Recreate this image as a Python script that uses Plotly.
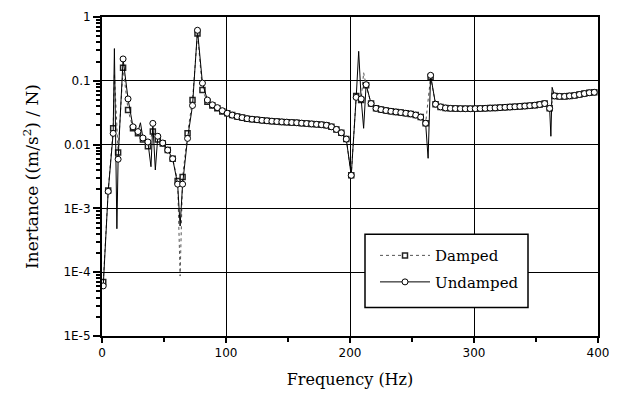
import plotly.graph_objects as go

# ---- data ----
freq = [1, 5, 9, 13, 17, 21, 25, 29, 33, 37, 41, 45, 49, 53, 57, 61, 65, 69, 73, 77,
        81, 85, 89, 93, 97, 101, 105, 109, 113, 117, 121, 125, 129, 133, 137, 141, 145, 149, 153, 157,
        161, 165, 169, 173, 177, 181, 185, 189, 193, 197, 201, 205, 209, 213, 217, 221, 225, 229, 233, 237,
        241, 245, 249, 253, 257, 261, 265, 269, 273, 277, 281, 285, 289, 293, 297, 301, 305, 309, 313, 317,
        321, 325, 329, 333, 337, 341, 345, 349, 353, 357, 361, 365, 369, 373, 377, 381, 385, 389, 393, 397]

undamped = [6.1e-5, 1.85e-3, 0.015, 0.0059, 0.22, 0.052, 0.019, 0.016, 0.0127, 0.011,
            0.0215, 0.0135, 0.0106, 0.0082, 0.006, 0.0024, 0.0024, 0.0125, 0.041, 0.62,
            0.092, 0.05, 0.042, 0.038, 0.034, 0.031, 0.029, 0.0275, 0.0265, 0.0255,
            0.025, 0.0245, 0.024, 0.0236, 0.0233, 0.023, 0.0227, 0.0225, 0.0222, 0.022,
            0.0217, 0.0214, 0.0211, 0.0208, 0.0205, 0.0201, 0.019, 0.0173, 0.0153, 0.0122,
            0.0033, 0.055, 0.052, 0.087, 0.044, 0.037, 0.0354, 0.0342, 0.0333, 0.0325,
            0.0318, 0.031, 0.0303, 0.029, 0.027, 0.0216, 0.122, 0.043, 0.039, 0.0375,
            0.037, 0.0368, 0.0366, 0.0365, 0.0365, 0.0366, 0.0368, 0.037, 0.0373, 0.0376,
            0.038, 0.0384, 0.0388, 0.0392, 0.0397, 0.0402, 0.0408, 0.0415, 0.0425, 0.044,
            0.037, 0.058, 0.057, 0.057, 0.058, 0.059, 0.061, 0.063, 0.065, 0.066]

damped = [7.0e-5, 1.9e-3, 0.018, 0.0075, 0.16, 0.035, 0.018, 0.015, 0.012, 0.0094,
          0.016, 0.012, 0.0104, 0.0082, 0.006, 0.0027, 0.0031, 0.015, 0.05, 0.55,
          0.072, 0.047, 0.041, 0.037, 0.033, 0.031, 0.029, 0.0275, 0.0265, 0.0255,
          0.025, 0.0245, 0.024, 0.0236, 0.0233, 0.023, 0.0227, 0.0225, 0.0222, 0.022,
          0.0217, 0.0214, 0.0211, 0.0208, 0.0205, 0.0201, 0.019, 0.0173, 0.0153, 0.0122,
          0.0033, 0.058, 0.05, 0.085, 0.044, 0.037, 0.0354, 0.0342, 0.0333, 0.0325,
          0.0318, 0.031, 0.0303, 0.029, 0.027, 0.0216, 0.115, 0.043, 0.039, 0.0375,
          0.037, 0.0368, 0.0366, 0.0365, 0.0365, 0.0366, 0.0368, 0.037, 0.0373, 0.0376,
          0.038, 0.0384, 0.0388, 0.0392, 0.0397, 0.0402, 0.0408, 0.0415, 0.0425, 0.044,
          0.037, 0.058, 0.057, 0.057, 0.058, 0.059, 0.061, 0.063, 0.065, 0.066]

# sharp resonance / anti-resonance excursions drawn by the lines between markers
undamped_spike_freq = [10, 12, 31, 39.5, 43, 63, 207, 211, 263, 362, 363]
undamped_spike_val = [0.32, 4.8e-4, 0.022, 0.0045, 0.004, 5.3e-4, 0.29, 0.018, 0.0061, 0.0135, 0.079]
damped_spike_freq = [10, 63, 211]
damped_spike_val = [0.13, 8.7e-5, 0.134]

y_tick_vals = [1e-5, 1e-4, 1e-3, 0.01, 0.1, 1]
y_tick_text = ["1E-5", "1E-4", "1E-3", "0.01", "0.1", "1"]
x_tick_vals = [0, 100, 200, 300, 400]


def merged(f, v, sf, sv):
    pts = sorted(list(zip(f, v)) + list(zip(sf, sv)))
    return [p[0] for p in pts], [p[1] for p in pts]


dx, dy = merged(freq, damped, damped_spike_freq, damped_spike_val)
ux, uy = merged(freq, undamped, undamped_spike_freq, undamped_spike_val)

SERIF = "DejaVu Serif"
SANS = "DejaVu Sans"

fig = go.Figure()

# Damped: dotted grey line, small squares
fig.add_trace(go.Scatter(x=dx, y=dy, mode="lines", showlegend=False, hoverinfo="skip",
                         line=dict(color="#555555", width=1, dash="dot")))
fig.add_trace(go.Scatter(x=freq, y=damped, mode="markers", showlegend=False, name="Damped",
                         marker=dict(symbol="square", size=5, color="white",
                                     line=dict(color="#222222", width=1.5))))
# Undamped: solid black line, open circles
fig.add_trace(go.Scatter(x=ux, y=uy, mode="lines", showlegend=False, hoverinfo="skip",
                         line=dict(color="black", width=1)))
fig.add_trace(go.Scatter(x=freq, y=undamped, mode="markers", showlegend=False, name="Undamped",
                         marker=dict(symbol="circle", size=6, color="white",
                                     line=dict(color="black", width=1))))

# legend entries
fig.add_trace(go.Scatter(x=[None], y=[None], mode="lines+markers", name="Damped",
                         legendgroup="d",
                         line=dict(color="#555555", width=1, dash="dot"),
                         marker=dict(symbol="square", size=5, color="white",
                                     line=dict(color="#222222", width=1.5))))
fig.add_trace(go.Scatter(x=[None], y=[None], mode="lines+markers", name="Undamped",
                         legendgroup="u",
                         line=dict(color="black", width=1),
                         marker=dict(symbol="circle", size=6, color="white",
                                     line=dict(color="black", width=1))))

L, R, T, B = 102, 32, 10, 61
W, H = 630, 397
pw, ph = W - L - R, H - T - B


def px_to_paper(x, y):
    return (x - L) / pw, (H - B - y) / ph


bx0, by0 = px_to_paper(365, 307)
bx1, by1 = px_to_paper(528, 232)
fig.add_shape(type="rect", xref="paper", yref="paper", x0=bx0, y0=by0, x1=bx1, y1=by1,
              line=dict(color="black", width=1.5), fillcolor="white", layer="above")

lx, ly = px_to_paper(375, 237)

fig.update_layout(
    width=W, height=H,
    margin=dict(l=L, r=R, t=T, b=B),
    paper_bgcolor="white", plot_bgcolor="white",
    showlegend=True,
    legend=dict(x=lx, y=ly, xanchor="left", yanchor="top",
                bgcolor="rgba(0,0,0,0)", borderwidth=0,
                font=dict(family=SERIF, size=15, color="black"),
                itemwidth=50, traceorder="grouped", tracegroupgap=4),
    xaxis=dict(range=[0, 400], tickvals=x_tick_vals, ticks="outside", ticklen=5,
               tickwidth=1.5, tickcolor="black",
               minor=dict(dtick=50, ticks="outside", ticklen=4, tickcolor="black", showgrid=False),
               showgrid=True, gridcolor="black", gridwidth=1,
               showline=True, linecolor="black", linewidth=2, mirror=True,
               zeroline=False,
               tickfont=dict(family=SANS, size=12, color="black"),
               title=dict(text="Frequency (Hz)", font=dict(family=SERIF, size=16, color="black"),
                          standoff=14)),
    yaxis=dict(type="log", range=[-5, 0], tickvals=y_tick_vals, ticktext=y_tick_text,
               ticks="outside", ticklen=7, tickwidth=1.5, tickcolor="black",
               minor=dict(tickmode="array",
                          tickvals=[m * 10.0 ** e for e in range(-5, 0) for m in range(2, 10)],
                          ticks="outside", ticklen=4, tickcolor="black", showgrid=False),
               showgrid=True, gridcolor="black", gridwidth=1,
               showline=True, linecolor="black", linewidth=2, mirror=True,
               zeroline=False,
               tickfont=dict(family=SANS, size=12, color="black"),
               title=dict(text="Inertance ((m/s<sup>2</sup>) / N)",
                          font=dict(family=SERIF, size=17, color="black"),
                          standoff=20)),
)

fig.write_html("out.html")
